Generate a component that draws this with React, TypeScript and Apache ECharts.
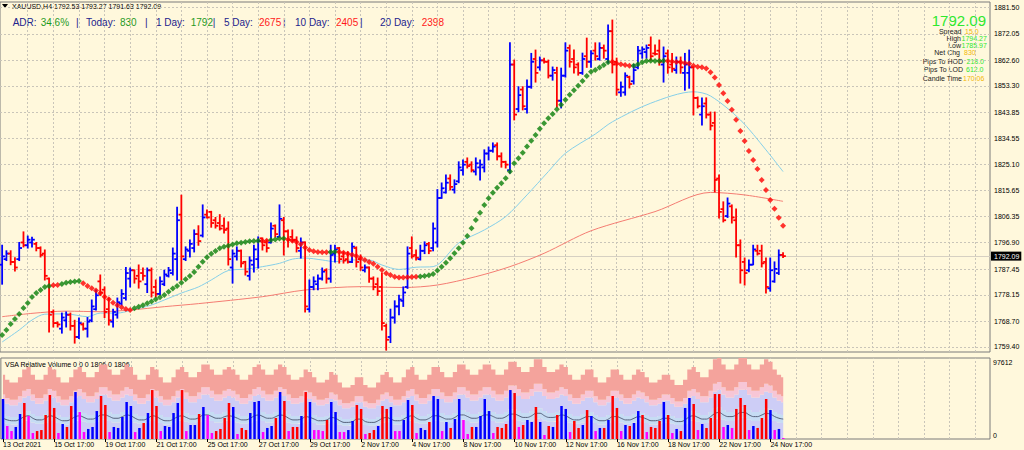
import React, { useEffect, useRef } from "react";
import * as echarts from "echarts";

const FONT = "Tahoma, 'Liberation Sans', Arial, sans-serif";
const ARIAL = "'Liberation Sans', Arial, sans-serif";

// ---------- axes ----------
const TOTAL_SLOTS = 232;
const LABEL_EVERY = 12;
const GRID_EVERY = 6;
const timeLabels = [
  "13 Oct 2021", "15 Oct 17:00", "19 Oct 17:00", "21 Oct 17:00", "25 Oct 17:00",
  "27 Oct 17:00", "29 Oct 17:00", "2 Nov 17:00", "4 Nov 17:00", "8 Nov 17:00",
  "10 Nov 17:00", "12 Nov 17:00", "16 Nov 17:00", "18 Nov 17:00", "22 Nov 17:00", "24 Nov 17:00",
];
const priceTicks = [
  1759.4, 1768.7, 1778.15, 1787.45, 1796.9, 1806.35, 1815.65, 1825.1,
  1834.55, 1843.85, 1853.3, 1862.6, 1872.05, 1881.5,
];
const priceMin = 1757.6;
const priceMax = 1883.5;
const lastPrice = 1792.09;
const volMaxLabel = 97612;
const volMaxK = 97.612;

// ---------- price bars: [open, high, low, close] ----------
const ohlc = [
  [1789, 1796, 1782, 1792], [1791, 1794, 1790.5, 1793], [1793, 1794, 1789, 1790], [1790, 1791.5, 1786.7, 1788],
  [1791, 1797, 1790.5, 1795], [1797, 1800.8, 1795.4, 1796], [1796, 1799.3, 1795, 1798], [1797, 1798.9, 1795.4, 1798],
  [1796.5, 1797, 1794, 1795], [1795, 1795.4, 1791.8, 1792.5], [1793, 1794.3, 1783.5, 1785], [1784, 1784.2, 1764.8, 1771],
  [1772, 1772.7, 1766.6, 1768], [1768, 1768.4, 1766.6, 1767.5], [1766, 1771.6, 1764.4, 1770], [1769, 1772, 1766.6, 1771],
  [1771, 1771.6, 1765.5, 1767], [1767, 1769, 1760.8, 1763], [1763, 1769.8, 1762.5, 1768], [1767.5, 1768, 1765.5, 1766],
  [1766, 1770, 1763, 1768.5], [1769, 1776.3, 1768.5, 1774], [1773, 1779.9, 1772.7, 1778], [1783, 1785.3, 1778, 1779],
  [1780, 1781, 1770, 1772], [1773, 1777, 1767.3, 1769], [1768.5, 1773, 1766.6, 1772], [1771, 1777, 1769.8, 1775.5],
  [1775, 1780, 1774.5, 1778.5], [1777, 1788, 1776.3, 1786], [1784, 1787.8, 1781, 1787], [1787, 1787.1, 1782.4, 1784],
  [1785, 1788.9, 1780.6, 1783], [1786, 1787.8, 1783.5, 1785], [1782, 1787.8, 1779, 1787], [1787, 1787.8, 1777.4, 1779],
  [1781, 1783.5, 1777.4, 1778.5], [1778.5, 1784.6, 1778.2, 1783], [1782, 1787, 1781.5, 1785.5], [1785, 1788, 1784.6, 1787],
  [1786, 1795, 1785.3, 1793], [1791, 1809.7, 1783.5, 1805], [1807, 1814, 1783.5, 1792], [1791, 1795.4, 1790.5, 1794.5],
  [1794, 1797.9, 1791.8, 1796.5], [1795, 1801.5, 1793.6, 1800], [1800, 1803, 1796, 1797.5], [1799.5, 1810.5, 1799, 1806],
  [1807, 1808.7, 1805.8, 1806], [1808, 1808.2, 1802.5, 1804], [1805, 1806, 1802.2, 1803], [1804, 1807, 1801.5, 1802],
  [1803, 1805.8, 1800.4, 1801.5], [1802, 1804.4, 1788.9, 1791], [1788, 1794.3, 1782.4, 1793], [1792, 1795.4, 1790.7, 1794],
  [1794, 1794.3, 1788.2, 1789.5], [1790, 1790.2, 1785.3, 1786.5], [1785, 1791.8, 1783.5, 1790.5], [1789, 1796, 1786.4, 1794.5],
  [1791, 1799, 1787.8, 1797.5], [1798.5, 1798.6, 1794.3, 1796], [1797, 1797.9, 1793.6, 1795], [1797, 1804, 1796.8, 1802],
  [1803, 1803.3, 1799, 1800], [1799, 1810.5, 1799, 1805.5], [1805, 1806, 1792.5, 1801], [1801, 1801.5, 1795.4, 1798],
  [1799, 1801.5, 1797.2, 1797.8], [1798, 1799, 1793.6, 1795], [1794, 1798.6, 1791.4, 1797], [1797, 1797.2, 1772, 1774],
  [1773, 1783.5, 1772, 1781], [1781, 1784.6, 1780, 1783], [1782, 1785.3, 1780, 1784], [1784, 1787.8, 1783.5, 1786.5],
  [1787, 1787.5, 1782.4, 1784], [1784, 1796, 1782.7, 1792.5], [1793, 1796, 1790, 1794.5], [1795, 1795.2, 1789.6, 1791],
  [1792, 1793.6, 1789.6, 1790.5], [1791, 1793.6, 1789.6, 1790], [1790, 1796.8, 1789.8, 1795.5], [1795, 1795.4, 1788.2, 1790],
  [1791, 1792.5, 1787, 1788], [1787, 1788.9, 1786.4, 1788], [1788, 1788.2, 1782.7, 1784], [1784, 1784.6, 1780, 1781],
  [1782, 1784.2, 1778, 1779.5], [1781, 1786, 1765.5, 1768], [1767, 1767.6, 1758.3, 1762], [1763, 1773, 1761, 1770],
  [1770, 1776, 1768, 1774], [1774, 1778, 1771, 1776.5], [1776, 1781, 1774, 1779], [1781, 1795.4, 1780.5, 1793],
  [1795, 1799, 1791.4, 1792], [1792.5, 1794.3, 1790.7, 1791.5], [1791, 1796, 1790.7, 1794], [1794, 1797.2, 1793, 1796],
  [1796.5, 1797, 1793, 1794], [1795, 1804, 1794, 1802], [1797, 1816, 1795.4, 1813], [1813, 1818.4, 1812.9, 1816.5],
  [1815, 1821.3, 1814.8, 1818.5], [1820, 1821.3, 1815.9, 1817], [1816, 1819.5, 1814.8, 1818], [1819, 1826, 1818.5, 1824],
  [1823, 1826.7, 1821.3, 1825], [1826, 1827.4, 1823.8, 1824.5], [1825, 1826, 1822.4, 1823], [1822.5, 1827.4, 1821.3, 1825.5],
  [1824, 1826.7, 1819.5, 1825], [1824, 1830.3, 1822.4, 1829], [1829, 1831.3, 1826.7, 1830], [1830, 1832.8, 1829.5, 1831.5],
  [1832, 1832.8, 1826.7, 1828], [1828, 1829.2, 1824.1, 1826], [1826, 1826.2, 1823.8, 1825], [1823, 1868.8, 1822, 1861],
  [1861, 1862.6, 1841.1, 1843], [1845, 1853, 1844, 1850], [1852, 1853, 1844.7, 1846], [1845, 1855.4, 1843.6, 1853],
  [1853, 1865, 1852.5, 1862], [1863, 1866.2, 1854.7, 1858], [1860, 1863.7, 1859, 1862.5], [1862.5, 1863.3, 1861.6, 1862],
  [1862, 1862.6, 1856.2, 1857], [1857, 1860.1, 1855.4, 1859], [1858, 1860, 1845.7, 1848], [1848, 1859.7, 1845.4, 1857],
  [1857, 1868.8, 1856.5, 1866], [1867, 1868, 1860.1, 1862], [1863, 1866.2, 1858, 1860], [1861, 1861.6, 1857.2, 1858],
  [1858, 1865.1, 1857.5, 1863], [1864, 1870.5, 1860, 1862], [1862, 1866, 1860, 1865], [1866, 1868.8, 1862.6, 1864],
  [1863, 1868.8, 1862.6, 1867], [1867, 1868, 1863.3, 1866], [1863, 1875.2, 1861.6, 1873], [1873, 1877, 1858, 1861],
  [1862, 1863.3, 1850, 1852], [1851, 1854.7, 1849.6, 1853], [1851, 1858, 1850, 1857], [1856.5, 1856.8, 1852.6, 1854],
  [1855, 1861, 1854, 1859], [1860, 1867.5, 1859.5, 1866], [1865, 1867.3, 1863.3, 1866.5], [1865.5, 1868, 1863.3, 1867],
  [1868, 1870.9, 1862.6, 1864], [1865, 1868, 1864.4, 1864.8], [1866, 1869.8, 1860.8, 1862], [1861, 1867.3, 1854.7, 1864],
  [1865, 1866.2, 1857.9, 1860], [1861, 1865, 1858.3, 1859.5], [1859, 1863.7, 1857.9, 1862], [1862, 1863.7, 1857.9, 1860],
  [1858, 1865, 1851.8, 1861], [1858, 1866.2, 1852.5, 1860], [1860, 1860.1, 1842.9, 1849], [1849, 1849.3, 1845.4, 1846],
  [1843, 1849, 1839.3, 1846], [1847, 1849, 1841.8, 1843], [1843, 1843.9, 1837.5, 1839], [1840, 1843.9, 1815.2, 1819.5],
  [1820, 1821.3, 1805.8, 1808], [1809, 1811.6, 1804.4, 1805], [1806.5, 1813, 1806, 1811], [1810, 1810.5, 1804, 1806],
  [1805, 1809, 1791.8, 1796], [1796, 1797.9, 1782.4, 1787], [1790, 1791.4, 1781.7, 1786], [1787, 1790.7, 1786.5, 1789],
  [1789, 1796, 1789, 1794.5], [1794, 1796, 1792.5, 1793], [1794, 1796, 1788.2, 1789.5], [1790, 1791.4, 1778.8, 1781],
  [1780.5, 1791.4, 1779.5, 1787], [1783, 1790, 1782.7, 1787.5], [1786, 1794.3, 1785.5, 1792.5], [1792.53, 1793.27, 1791.63, 1792.09],
];

// ---------- trend dots (one per bar) ----------
const hma = [
  1763.7, 1765.5, 1767.7, 1769.5, 1771.3, 1773.4, 1775.2, 1777.4, 1778.8, 1779.9,
  1781.0, 1781.3, 1781.6, 1781.7, 1782.1, 1782.5, 1782.8, 1783.0, 1783.1, 1782.3,
  1781.3, 1780.5, 1779.7, 1778.7, 1777.5, 1776.6, 1775.3, 1774.4, 1773.7, 1773.1,
  1772.7, 1773.3, 1773.9, 1774.4, 1775.1, 1775.8, 1776.6, 1777.3, 1778.1, 1779.3,
  1780.4, 1781.3, 1782.5, 1783.8, 1784.9, 1786.4, 1788.3, 1790.1, 1791.7, 1792.9,
  1793.9, 1794.9, 1795.5, 1795.8, 1796.3, 1796.7, 1796.9, 1797.2, 1797.4, 1797.5,
  1797.6, 1797.5, 1797.6, 1797.9, 1798.1, 1798.4, 1798.4, 1798.1, 1797.6, 1797.2,
  1796.4, 1795.2, 1794.3, 1793.8, 1793.6, 1793.5, 1793.5, 1793.6, 1793.7, 1793.6,
  1793.3, 1792.9, 1792.6, 1792.1, 1791.4, 1790.7, 1790.0, 1789.3, 1788.3, 1787.1,
  1785.9, 1785.3, 1784.7, 1784.4, 1784.4, 1784.5, 1784.6, 1784.7, 1784.8, 1784.9,
  1785.2, 1785.7, 1786.9, 1788.3, 1789.7, 1791.3, 1793.1, 1794.9, 1796.9, 1799.3,
  1802.1, 1805.1, 1807.7, 1810.5, 1812.9, 1814.9, 1816.7, 1818.3, 1820.1, 1822.5,
  1825.5, 1827.3, 1829.3, 1831.5, 1833.6, 1835.7, 1837.9, 1839.9, 1841.7, 1843.2,
  1844.9, 1846.5, 1848.3, 1850.1, 1851.8, 1853.4, 1855.1, 1856.9, 1858.4, 1859.0,
  1859.9, 1860.8, 1861.8, 1862.0, 1861.4, 1861.1, 1860.8, 1860.6, 1860.6, 1861.1,
  1861.8, 1862.3, 1862.4, 1862.3, 1862.3, 1862.4, 1862.3, 1862.1, 1861.9, 1861.8,
  1861.6, 1861.4, 1860.6, 1860.2, 1860.0, 1859.6, 1858.2, 1856.3, 1853.6, 1850.7,
  1847.9, 1844.7, 1841.1, 1837.1, 1833.5, 1829.9, 1826.7, 1823.4, 1819.5, 1815.9,
  1812.3, 1809.1, 1805.9, 1803.0,
];
const hmaRedRanges = [[12, 13], [19, 30], [61, 62], [67, 76], [79, 97], [143, 147], [156, 183]];

// ---------- moving averages: [bar index, price] read points ----------
const maFast = [
  [0, 1761.2], [4, 1765.5], [7, 1769.1], [10, 1771.2], [15, 1771.3], [20, 1770.3], [23, 1771.6],
  [27, 1771.6], [30, 1772.5], [35, 1774.5], [38, 1776.3], [42, 1778.8], [46, 1781.0], [49, 1783.5],
  [53, 1786.9], [57, 1787.4], [61, 1788.3], [65, 1789.5], [68, 1791.0], [71, 1791.4], [75, 1790.7],
  [78, 1790.1], [82, 1790.7], [86, 1790.7], [89, 1788.9], [93, 1787.3], [97, 1788.1], [101, 1788.3],
  [107, 1796.8], [113, 1801.5], [118, 1806.3], [123, 1814.1], [128, 1822.5], [132, 1829.1], [139, 1836.0],
  [143, 1840.4], [152, 1847.1], [162, 1851.2], [166, 1849.7], [173, 1841.1], [179, 1830.3], [183, 1822.5],
];
const maSlow = [
  [0, 1770.3], [7, 1771.5], [15, 1772.3], [23, 1772.1], [30, 1772.7], [38, 1773.9], [46, 1775.0],
  [61, 1777.5], [71, 1779.9], [84, 1781.1], [94, 1780.8], [102, 1781.7], [111, 1784.7], [119, 1788.3],
  [127, 1793.1], [138, 1801.2], [153, 1808.1], [166, 1815.0], [174, 1814.1], [183, 1811.8],
];

// ---------- volume (thousands) ----------
const volumes = [
  48.2, 15.7, 9.6, 14.5, 30.1, 43.4, 27.7, 7.2, 9.6, 10.8,
  28.9, 53.0, 37.4, 7.2, 18.1, 14.5, 39.8, 56.6, 32.5, 8.4,
  12.1, 14.5, 33.7, 51.8, 41.0, 8.4, 14.5, 13.3, 26.5, 44.6,
  39.8, 8.4, 13.3, 19.3, 31.3, 59.0, 39.8, 9.6, 15.7, 14.5,
  31.3, 43.4, 59.0, 9.6, 16.9, 16.9, 30.1, 38.6, 28.9, 7.2,
  9.6, 12.1, 25.3, 43.4, 38.6, 6.0, 13.3, 10.8, 31.3, 44.6,
  45.8, 8.4, 13.3, 15.7, 25.3, 56.6, 45.8, 9.6, 14.5, 14.5,
  27.7, 56.6, 44.6, 10.8, 10.8, 9.6, 22.9, 44.6, 32.5, 8.4,
  8.4, 10.8, 21.7, 41.0, 36.2, 6.0, 7.2, 10.8, 15.7, 39.8,
  36.2, 38.6, 9.6, 9.6, 22.9, 47.0, 41.0, 7.2, 13.3, 10.8,
  20.5, 51.8, 48.2, 9.6, 20.5, 13.3, 24.1, 48.2, 22.9, 6.0,
  14.5, 14.5, 27.7, 48.2, 33.7, 7.2, 14.5, 13.3, 18.1, 59.0,
  55.4, 14.5, 16.9, 22.9, 20.5, 38.6, 20.5, 4.8, 15.7, 14.5,
  28.9, 39.8, 36.2, 8.4, 21.7, 13.3, 16.9, 34.9, 27.7, 9.6,
  13.3, 13.3, 22.9, 51.8, 37.4, 9.6, 16.9, 15.7, 19.3, 33.7,
  28.9, 8.4, 14.5, 13.3, 21.7, 44.6, 28.9, 7.2, 12.1, 9.6,
  37.4, 49.4, 42.2, 10.8, 18.1, 13.3, 25.3, 54.2, 54.2, 14.5,
  16.9, 13.3, 36.2, 49.4, 41.0, 10.8, 15.7, 13.3, 25.3, 48.2,
  34.9, 10.8, 12.1, 1.2,
];
// b = up volume, r = down volume, m = low volume
const volColors =
  "bmmbbrmmrr" + "rrrmbrrbmm" + "bbbrrmbbbb" + "bmbrbrrmbb" + "bbrmbbrbmm" +
  "rrrrbmrrbb" + "bmbbrbrmrr" + "brbmmmrbbm" + "mbbrrmrrbr" + "rbmmbbrmbb" +
  "rbbmbrbbmm" + "rbbbbmrrrb" + "rmrbbrbmrb" + "rbbmrrbrbm" + "brbrrmbrbb" +
  "rmrrrbrmbr" + "bbrmbrrrrm" + "bmrrrmbrrr" + "bmbm";
// relative-volume average line (thousands)
const volAvg = [
  25, 23, 22, 22, 24, 27, 28, 25, 23, 23, 25, 28, 27, 24, 22, 22, 24, 27,
  28, 26, 24, 24, 26, 29, 29, 27, 25, 25, 27, 29, 28, 25, 23, 23, 25, 28,
  27, 24, 22, 22, 24, 27, 28, 26, 24, 24, 26, 29, 29, 27, 25, 25, 27, 28,
  27, 25, 23, 23, 25, 28, 29, 27, 25, 25, 27, 29, 28, 25, 23, 23, 24, 27,
  26, 24, 22, 22, 23, 26, 25, 22, 20, 20, 21, 24, 24, 21, 20, 20, 22, 25,
  26, 24, 22, 22, 24, 27, 28, 25, 23, 23, 25, 28, 28, 26, 24, 24, 26, 29,
  29, 27, 25, 25, 27, 29, 29, 27, 25, 25, 27, 30, 30, 28, 26, 26, 28, 31,
  31, 28, 26, 26, 27, 29, 28, 25, 23, 23, 25, 27, 27, 24, 22, 22, 24, 27,
  27, 25, 23, 23, 25, 27, 26, 24, 22, 22, 23, 25, 25, 23, 21, 21, 23, 27,
  28, 26, 24, 24, 27, 31, 32, 29, 27, 27, 29, 32, 32, 29, 27, 27, 29, 31,
  30, 27, 25, 24,
];
// band levels of the relative-volume indicator, as multiples of the average
const bandLevels = [0.8, 1.2, 1.85, 2.15, 3.1];
const bandColors = ["#cdcdf6", "#c6dcf4", "#cdcdf6", "#f7c6d6", "#f4a39c"];

// ---------- header / info texts ----------
const headerLine = "XAUUSD,H4 1792.53 1793.27 1791.63 1792.09";
const NAVY = "#22228c";
const GREEN = "#1f9a1f";
const RED = "#ff1a1a";
const LIME = "#2ee82e";
const ORANGE = "#f2b705";
const adrPieces = [
  { t: "ADR:", c: NAVY, x: 12.7 }, { t: "34.6%", c: GREEN, x: 40.7 }, { t: "|", c: NAVY, x: 76 },
  { t: "Today:", c: NAVY, x: 86 }, { t: "830", c: GREEN, x: 120 }, { t: "|", c: NAVY, x: 145 },
  { t: "1 Day:", c: NAVY, x: 156 }, { t: "1792", c: GREEN, x: 190.7 }, { t: "|", c: NAVY, x: 212.7 },
  { t: "5 Day:", c: NAVY, x: 224 }, { t: "2675", c: RED, x: 259 }, { t: "|", c: NAVY, x: 283 },
  { t: "10 Day:", c: NAVY, x: 295 }, { t: "2405", c: RED, x: 336 }, { t: "|", c: NAVY, x: 360 },
  { t: "20 Day:", c: NAVY, x: 380 }, { t: "2398", c: RED, x: 421.7 },
];
const infoRows = [
  { label: "Spread", value: "15.0", c: ORANGE, y: 31.5, lx: 961.5, vx: 965 },
  { label: "High", value: "1794.27", c: LIME, y: 38.8, lx: 961, vx: 961.5 },
  { label: "Low", value: "1785.97", c: LIME, y: 45.6, lx: 961, vx: 961.5 },
  { label: "Net Chg", value: "830", c: ORANGE, y: 52.8, lx: 960, vx: 964 },
  { label: "Pips To HOD", value: "218.0", c: LIME, y: 61, lx: 963, vx: 966.5 },
  { label: "Pips To LOD", value: "612.0", c: LIME, y: 69.8, lx: 963, vx: 966 },
  { label: "Candle Time", value: "170:06", c: ORANGE, y: 78.3, lx: 962, vx: 963 },
];
const vsaTitle = "VSA Relative Volume 0 0 0 1806 0 1806";

function txt(x: number, y: number, text: string, color: string, size: number, align = "left", family = FONT) {
  return {
    type: "text",
    x,
    y,
    silent: true,
    style: {
      text,
      fill: color,
      fontSize: size,
      fontFamily: family,
      align,
      textAlign: align,
      verticalAlign: "middle",
      textVerticalAlign: "middle",
    },
  };
}

export default function App() {
  const ref = useRef<HTMLDivElement>(null);

  useEffect(() => {
    if (!ref.current) return;
    document.body.style.margin = "0";
    const chart = echarts.init(ref.current, undefined, { renderer: "svg" });

    const cats = Array.from({ length: TOTAL_SLOTS }, (_, i) => String(i));
    const isLabel = (i: number) => i % LABEL_EVERY === 0 && i / LABEL_EVERY < timeLabels.length;
    const vIdx: number[] = [];
    for (let i = GRID_EVERY; i < TOTAL_SLOTS; i += GRID_EVERY) vIdx.push(i);
    const isRed = (i: number) => hmaRedRanges.some(([a, b]) => i >= a && i <= b);
    const volColorMap: Record<string, string> = { b: "#0000ff", r: "#ff0000", m: "#ff00ff" };
    const gridLineStyle = { color: "#c9c5b9", type: [2, 2], width: 1 };

    const renderBar = (_params: any, api: any) => {
      const i = api.value(0);
      const o = api.value(1);
      const h = api.value(2);
      const l = api.value(3);
      const c = api.value(4);
      const top = api.coord([i, h]);
      const bot = api.coord([i, l]);
      const yo = api.coord([i, o])[1];
      const yc = api.coord([i, c])[1];
      const x = top[0];
      const color = c >= o ? "#0000ff" : "#ff0000";
      const st = { stroke: color, lineWidth: 1.8 };
      return {
        type: "group",
        children: [
          { type: "line", shape: { x1: x, y1: top[1] - 0.5, x2: x, y2: bot[1] + 0.5 }, style: st },
          { type: "line", shape: { x1: x - 2.8, y1: yo, x2: x, y2: yo }, style: st },
          { type: "line", shape: { x1: x, y1: yc, x2: x + 2.8, y2: yc }, style: st },
        ],
      };
    };

    const bandSeries = bandLevels.map((lvl, k) => ({
      type: "line",
      name: "band" + k,
      xAxisIndex: 1,
      yAxisIndex: 1,
      stack: "vsa",
      step: "middle",
      symbol: "none",
      z: 2,
      silent: true,
      lineStyle: { width: 0 },
      areaStyle: { color: bandColors[k], opacity: 1 },
      data: volAvg.map((v) => v * (lvl - (k > 0 ? bandLevels[k - 1] : 0))),
    }));

    const option: any = {
      animation: false,
      backgroundColor: "#fff8dc",
      textStyle: { fontFamily: FONT },
      grid: [
        { left: 0, top: 2, width: 990, height: 350, show: true, borderColor: "#7a7a7a", borderWidth: 1, backgroundColor: "transparent" },
        { left: 0, top: 358, width: 990, height: 81, show: true, borderColor: "#7a7a7a", borderWidth: 1, backgroundColor: "transparent" },
      ],
      xAxis: [
        {
          type: "category", gridIndex: 0, data: cats, boundaryGap: true,
          axisLine: { show: false }, axisTick: { show: false }, axisLabel: { show: false }, splitLine: { show: false },
        },
        {
          type: "category", gridIndex: 1, data: cats, boundaryGap: true,
          axisLine: { show: false },
          axisTick: { show: true, alignWithLabel: true, interval: (i: number) => isLabel(i), length: 3, lineStyle: { color: "#000" } },
          axisLabel: {
            show: true,
            interval: (i: number) => isLabel(i),
            formatter: (_v: string, i: number) => (isLabel(i) ? timeLabels[i / LABEL_EVERY] : ""),
            align: "left",
            fontSize: 7,
            color: "#000",
            fontFamily: FONT,
            margin: 2,
          },
          splitLine: { show: false },
        },
      ],
      yAxis: [
        {
          type: "value", gridIndex: 0, position: "right", min: priceMin, max: priceMax,
          axisLine: { show: false }, axisTick: { show: false }, axisLabel: { show: false }, splitLine: { show: false },
        },
        {
          type: "value", gridIndex: 1, position: "right", min: 0, max: volMaxK, interval: volMaxK,
          axisLine: { show: false }, axisTick: { show: false }, splitLine: { show: false },
          axisLabel: {
            show: true,
            margin: 3,
            formatter: (v: number) => (v > 0 ? "{t|" + volMaxLabel + "}" : "{b|0}"),
            rich: {
              t: { fontSize: 7, fontFamily: FONT, color: "#000", padding: [9, 0, 0, 0] },
              b: { fontSize: 7, fontFamily: FONT, color: "#000", padding: [0, 0, 7, 0] },
            },
          },
        },
      ],
      series: [
        {
          type: "line",
          name: "MA fast",
          xAxisIndex: 0,
          yAxisIndex: 0,
          data: maFast,
          smooth: 0.3,
          symbol: "none",
          z: 2,
          silent: true,
          lineStyle: { color: "#86cfe8", width: 1 },
          markLine: {
            silent: true,
            z: 1,
            symbol: ["none", "none"],
            data: [
              ...priceTicks.map((v) => ({
                yAxis: v,
                lineStyle: gridLineStyle,
                label: { show: true, position: "end", formatter: v.toFixed(2), color: "#000", fontSize: 7, fontFamily: FONT, distance: 4 },
              })),
              {
                yAxis: lastPrice,
                lineStyle: { color: "#d6d0c2", type: "solid", width: 1 },
                label: {
                  show: true, position: "end", formatter: lastPrice.toFixed(2), color: "#fff", backgroundColor: "#000",
                  padding: [1, 2, 1, 3], fontSize: 7, fontFamily: FONT, distance: 1,
                },
              },
            ],
          },
        },
        {
          type: "line",
          name: "MA slow",
          xAxisIndex: 0,
          yAxisIndex: 0,
          data: maSlow,
          smooth: 0.3,
          symbol: "none",
          z: 2,
          silent: true,
          lineStyle: { color: "#f47c72", width: 1 },
          markLine: {
            silent: true,
            z: 1,
            symbol: ["none", "none"],
            label: { show: false },
            lineStyle: gridLineStyle,
            data: vIdx.map((i) => ({ xAxis: i })),
          },
        },
        {
          type: "custom",
          name: "XAUUSD",
          xAxisIndex: 0,
          yAxisIndex: 0,
          z: 3,
          silent: true,
          renderItem: renderBar,
          encode: { x: 0, y: [1, 2, 3, 4] },
          data: ohlc.map((d, i) => [i, d[0], d[1], d[2], d[3]]),
        },
        {
          type: "scatter",
          name: "trend",
          xAxisIndex: 0,
          yAxisIndex: 0,
          z: 4,
          silent: true,
          symbol: "diamond",
          symbolSize: 6,
          data: hma.map((v, i) => ({ value: [i, v], itemStyle: { color: isRed(i) ? "#ff0000" : "#0a7f0a" } })),
        },
        ...bandSeries,
        {
          type: "line",
          name: "avg",
          xAxisIndex: 1,
          yAxisIndex: 1,
          data: volAvg,
          symbol: "none",
          smooth: 0.3,
          z: 3,
          silent: true,
          lineStyle: { color: "#55607a", width: 1 },
          markLine: {
            silent: true,
            z: 1,
            symbol: ["none", "none"],
            label: { show: false },
            lineStyle: gridLineStyle,
            data: vIdx.map((i) => ({ xAxis: i })),
          },
        },
        {
          type: "bar",
          name: "volume",
          xAxisIndex: 1,
          yAxisIndex: 1,
          z: 4,
          silent: true,
          barWidth: 2.5,
          data: volumes.map((v, i) => ({ value: v, itemStyle: { color: volColorMap[volColors[i]] } })),
        },
      ],
      graphic: [
        { type: "polygon", silent: true, shape: { points: [[2, 4], [8, 4], [5, 8]] }, style: { fill: "#000" } },
        txt(12, 6.5, headerLine, "#000", 7),
        ...adrPieces.map((p) => txt(p.x, 22, p.t, p.c, 10, "left", ARIAL)),
        txt(986, 20.5, "1792.09", LIME, 15, "right", ARIAL),
        ...infoRows.map((r) => txt(r.lx, r.y, r.label, "#1a1a1a", 7, "right")),
        ...infoRows.map((r) => txt(r.vx, r.y, r.value, r.c, 7, "left")),
        txt(5, 364, vsaTitle, "#000", 7),
      ],
    };

    chart.setOption(option);
    return () => chart.dispose();
  }, []);

  return <div ref={ref} style={{ position: "fixed", left: 0, top: 0, width: 1024, height: 450 }} />;
}
